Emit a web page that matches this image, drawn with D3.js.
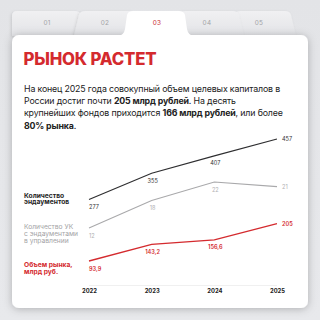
<!DOCTYPE html>
<html><head><meta charset="utf-8">
<script src="https://cdn.jsdelivr.net/npm/d3@7"></script>
<style>html,body{margin:0;padding:0;background:#e4e5e8;}svg{display:block;}</style>
</head><body>
<script>
const years = ["2022","2023","2024","2025"];
const endowments = [277,355,407,457];
const managers = [12,18,22,21];
const marketVolume = [93.9,143.2,156.6,205];
const tabLabels = ["01","02","03","04","05"];
const activeTab = "03";
const seriesNames = [["Количество","эндаументов"],["Количество УК","с эндаументами","в управлении"],["Объем рынка,","млрд руб."]];
const fmt = v => String(v).replace(".", ",");

const W=320,H=320;
const svg=d3.select("body").append("svg").attr("width",W).attr("height",H);
const defs=svg.append("defs");
const bg=defs.append("linearGradient").attr("id","bg").attr("x1",0).attr("y1",0).attr("x2",0).attr("y2",1);
bg.append("stop").attr("offset",0).attr("stop-color","#e3e4e7");
bg.append("stop").attr("offset",1).attr("stop-color","#e8e9ec");
const tg=defs.append("linearGradient").attr("id","tg").attr("x1",0).attr("y1",0).attr("x2",0).attr("y2",1);
tg.append("stop").attr("offset",0).attr("stop-color","#f0f0f2");
tg.append("stop").attr("offset",1).attr("stop-color","#e3e4e7");
const f=defs.append("filter").attr("id","sh").attr("x","-20%").attr("y","-20%").attr("width","140%").attr("height","140%");
f.append("feDropShadow").attr("dx",0).attr("dy",1).attr("stdDeviation",4.5).attr("flood-color","#000").attr("flood-opacity",0.25);
const f2=defs.append("filter").attr("id","sh2").attr("x","-20%").attr("y","-20%").attr("width","140%").attr("height","140%");
f2.append("feDropShadow").attr("dx",-1).attr("dy",1).attr("stdDeviation",1.5).attr("flood-color","#000").attr("flood-opacity",0.12);

svg.append("rect").attr("width",W).attr("height",H).attr("fill","url(#bg)");

// tabs
const tabGeom = {"01":[12,80,47],"02":[80,134,105],"03":[128,184,157],"04":[180,238,207],"05":[235,290,259]};
function tabPath(l,r,first){
  const p=d3.path();
  if(first){p.moveTo(l,36);p.lineTo(l,16);p.quadraticCurveTo(l,11,l+5,11);}
  else{p.moveTo(l-6,36);p.lineTo(l-1,15);p.quadraticCurveTo(l,11,l+5,11);}
  p.lineTo(r-5,11);p.quadraticCurveTo(r,11,r+1,15);p.lineTo(r+6,36);p.closePath();
  return p.toString();
}
const tabsG=svg.append("g");
["01","02","05","04"].forEach(k=>{
  const [l,r]=tabGeom[k];
  tabsG.append("path").attr("d",tabPath(l,r,k==="01")).attr("fill","url(#tg)").attr("filter","url(#sh2)");
});
// card
svg.append("rect").attr("x",12).attr("y",35).attr("width",296).attr("height",273).attr("rx",7).attr("fill","#fff").attr("filter","url(#sh)");
// active tab
{
  const [l,r]=tabGeom[activeTab];
  const p=d3.path();
  p.moveTo(l-10,36);p.quadraticCurveTo(l-4,35,l-3,29);p.lineTo(l-1,15);p.quadraticCurveTo(l,11,l+5,11);
  p.lineTo(r-5,11);p.quadraticCurveTo(r,11,r+1,15);p.lineTo(r+3,29);p.quadraticCurveTo(r+4,35,r+10,36);p.closePath();
  svg.append("path").attr("d",p.toString()).attr("fill","#fff");
}
tabLabels.forEach(k=>{
  svg.append("text").attr("x",tabGeom[k][2]).attr("y",25).attr("text-anchor","middle")
    .attr("font-family","Inter, sans-serif").attr("font-size",6.4).attr("letter-spacing",0.3)
    .attr("fill",k===activeTab?"#c8282d":"#a2a3a6").text(k);
});

// title
svg.append("text").attr("x",23.5).attr("y",64.5).attr("font-family","Inter, sans-serif").attr("font-weight",800)
  .attr("font-size",16.8).attr("letter-spacing",-0.2).attr("fill","#d42a2e").text("РЫНОК РАСТЕТ");

// paragraph
const para=[
  [["На конец 2025 года совокупный объем целевых капиталов в",0]],
  [["России достиг почти ",0],["205 млрд рублей",1],[". На десять",0]],
  [["крупнейших фондов приходится ",0],["166 млрд рублей",1],[", или более",0]],
  [["80% рынка",1],[".",0]]
];
para.forEach((line,i)=>{
  const t=svg.append("text").attr("x",24).attr("y",91.5+i*12.4).attr("font-family","Inter, sans-serif")
    .attr("font-size",8.8).attr("fill","#222").attr("letter-spacing",-0.15);
  line.forEach(([s,b])=>t.append("tspan").attr("font-weight",b?700:400).text(s));
});

// chart
const x=d3.scalePoint().domain(years).range([89,277]);
const yMain=d3.scaleLinear().domain([93.9,457]).range([261,139]);
const yGray=d3.scaleLinear().domain([12,22]).range([228,182]);

svg.append("line").attr("x1",x(years[0])).attr("x2",x(years[years.length-1])).attr("y1",285.5).attr("y2",285.5)
  .attr("stroke","#ececec").attr("stroke-width",0.8);

const series=[
  {vals:endowments,y:yMain,color:"#2e2e30",lab:"#333",w:1.2,bold:false},
  {vals:managers,y:yGray,color:"#a9a9ab",lab:"#b0b0b2",w:1.1,bold:false},
  {vals:marketVolume,y:yMain,color:"#d42a2e",lab:"#d42a2e",w:1.3,bold:true}
];
series.forEach(s=>{
  const line=d3.line().x((d,i)=>x(years[i])).y(d=>s.y(d));
  svg.append("path").attr("d",line(s.vals)).attr("fill","none").attr("stroke",s.color).attr("stroke-width",s.w);
  s.vals.forEach((v,i)=>{
    const last=i===s.vals.length-1, first=i===0;
    svg.append("text")
      .attr("x",last?x(years[i])+5:first?x(years[i]):x(years[i])+1)
      .attr("y",last?s.y(v)+2:s.y(v)+9.5)
      .attr("text-anchor",last||first?"start":"middle")
      .attr("font-family","Inter, sans-serif").attr("font-size",5.6)
      .attr("font-weight",s.bold?600:400).attr("fill",s.lab).text(fmt(v));
  });
});

// axis labels
const xAxis=d3.axisBottom(x).tickSize(0).tickPadding(0);
const ax=svg.append("g").attr("transform","translate(0,289)").call(xAxis);
ax.select(".domain").remove();
ax.selectAll("text").attr("font-family","Inter, sans-serif").attr("font-size",5.8).attr("font-weight",700).attr("fill","#222");

// series names
const nameStyles=[{y:197.5,c:"#1e1e1e",w:700},{y:229,c:"#a3a3a5",w:400},{y:267,c:"#d42a2e",w:700}];
seriesNames.forEach((lines,k)=>{
  lines.forEach((s,i)=>{
    svg.append("text").attr("x",24).attr("y",nameStyles[k].y+i*6.9).attr("font-family","Inter, sans-serif")
      .attr("font-size",6.7).attr("font-weight",nameStyles[k].w).attr("fill",nameStyles[k].c).text(s);
  });
});
</script>
</body></html>
